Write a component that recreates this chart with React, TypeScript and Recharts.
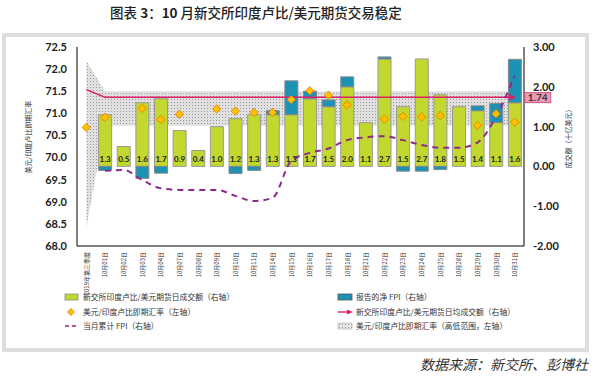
import React from 'react';
import { ComposedChart, Bar, Line, Area, XAxis, YAxis, LabelList } from 'recharts';

// categories: Q3 average + October trading days
const categories = [
  '2019年第三季度', '10月01日', '10月02日', '10月03日', '10月04日', '10月07日', '10月08日',
  '10月09日', '10月10日', '10月11日', '10月14日', '10月15日', '10月16日', '10月17日',
  '10月18日', '10月21日', '10月22日', '10月23日', '10月24日', '10月25日', '10月28日',
  '10月29日', '10月30日', '10月31日',
];

// SGX INR/USD futures daily volume (USD bn, right axis)
const futuresVolume = [null, 1.3, 0.5, 1.6, 1.7, 0.9, 0.4, 1.0, 1.2, 1.3, 1.3, 1.3, 1.7, 1.5, 2.0, 1.1, 2.7, 1.5, 2.7, 1.8, 1.5, 1.4, 1.1, 1.6];
// reported net FPI (right axis)
const netFpi = [null, -0.1, null, -0.3, -0.17, null, null, null, -0.18, -0.1, 0.1, 0.85, 0.19, 0.17, 0.25, null, 0.05, -0.12, -0.12, -0.08, null, 0.12, 0.48, 1.09];
// month-to-date cumulative FPI (right axis)
const cumulativeFpi = [null, -0.11, -0.09, -0.34, -0.55, -0.59, -0.59, -0.59, -0.74, -0.87, -0.79, 0.14, 0.34, 0.45, 0.66, 0.73, 0.76, 0.66, 0.54, 0.47, 0.47, 0.6, 1.25, 2.28];
// average daily futures volume (right axis)
const avgVolume = [1.93, 1.74, 1.74, 1.74, 1.74, 1.74, 1.74, 1.74, 1.74, 1.74, 1.74, 1.74, 1.74, 1.74, 1.74, 1.74, 1.74, 1.74, 1.74, 1.74, 1.74, 1.74, 1.74, 1.74];
// USD/INR spot rate (left axis)
const spotRate = [70.68, 70.91, null, 71.11, 70.86, 70.98, null, 71.1, 71.05, 71.02, 71.02, 71.31, 71.51, 71.41, 71.19, null, 70.87, 70.93, 70.92, 70.95, null, 70.73, 70.99, 70.8];
// USD/INR high-low range (left axis)
const rangeHigh = [72.19, 71.5, 71.5, 71.5, 71.5, 71.5, 71.5, 71.5, 71.5, 71.5, 71.5, 71.5, 71.5, 71.5, 71.5, 71.5, 71.5, 71.5, 71.5, 71.5, 71.5, 71.5, 71.5, 71.5];
const rangeLow = [68.41, 70.72, 70.72, 70.72, 70.72, 70.72, 70.72, 70.72, 70.72, 70.72, 70.72, 70.72, 70.72, 70.72, 70.72, 70.72, 70.72, 70.72, 70.72, 70.72, 70.72, 70.72, 70.72, 70.72];

const leftTicks = [68, 68.5, 69, 69.5, 70, 70.5, 71, 71.5, 72, 72.5];
const rightTicks = [-2, -1, 0, 1, 2, 3];

const data = categories.map((name, i) => ({
  name,
  vol: futuresVolume[i],
  fpi: netFpi[i],
  cum: cumulativeFpi[i],
  avg: avgVolume[i],
  spot: spotRate[i],
  range: [rangeLow[i], rangeHigh[i]],
}));

const GREEN = '#c2d82f';
const BLUE = '#1c92b4';
const RED = '#e0206a';
const PURPLE = '#8e2a8e';
const CJK = '"Noto Sans CJK SC", "Noto Sans", sans-serif';

const XTick = (props: any) => {
  const { x, y, payload } = props;
  return (
    <text x={x} y={y} transform={`rotate(-90, ${x}, ${y})`} textAnchor="end" dominantBaseline="central"
      fontSize={6} fill="#333" fontFamily={CJK}>
      {payload.value}
    </text>
  );
};

const VolLabel = (props: any) => {
  const { x, y, width, height, value } = props;
  if (value == null) return null;
  return (
    <text x={x + width / 2} y={y + height - 4} textAnchor="middle" fontSize={8} fontWeight={700}
      fill="#222" fontFamily="Lato, sans-serif">
      {Number(value).toFixed(1)}
    </text>
  );
};

const Diamond = (props: any) => {
  const { cx, cy, index } = props;
  if (cy == null || isNaN(cy)) return <g key={`d-${index}`} />;
  const r = 4.2;
  return (
    <polygon key={`d-${index}`} points={`${cx},${cy - r} ${cx + r},${cy} ${cx},${cy + r} ${cx - r},${cy}`}
      fill="#ffc000" stroke="#e07b00" strokeWidth={0.8} />
  );
};

const AvgEnd = (props: any) => {
  const { cx, cy, index } = props;
  if (index !== avgVolume.length - 1) return <g key={`a-${index}`} />;
  return (
    <g key={`a-${index}`}>
      <polygon points={`${cx + 1},${cy} ${cx - 6},${cy - 3.5} ${cx - 6},${cy + 3.5}`} fill={RED} />
      <rect x={cx + 10} y={cy - 4.5} width={26} height={10} fill="#eb9bb4" stroke="#c9537d" strokeWidth={1} />
      <text x={cx + 23} y={cy + 4} textAnchor="middle" fontSize={10} fontWeight={700} fill="#333"
        fontFamily="Lato, sans-serif">
        {avgVolume[index].toFixed(2)}
      </text>
    </g>
  );
};

const legendText = { fontSize: 7.8, fill: '#333', fontFamily: CJK };

export default function App() {
  return (
    <div style={{ position: 'absolute', left: 0, top: 0, width: 604, height: 388, background: '#fff' }}>
      <svg width={604} height={388} style={{ position: 'absolute', left: 0, top: 0 }}>
        <defs>
          <pattern id="hatchLegend" width="3" height="3" patternUnits="userSpaceOnUse">
            <rect width="3" height="3" fill="#e6e6e6" />
            <rect width="1" height="1" fill="#9a9a9a" />
          </pattern>
        </defs>
        <text x={256} y={17.5} textAnchor="middle" fontSize={13.5} fontWeight={500} fill="#222" fontFamily={CJK}>
          图表 <tspan fontWeight={700}>3</tspan>：<tspan fontWeight={700}>10</tspan> 月新交所印度卢比/美元期货交易稳定
        </text>
        <rect x={4} y={35} width={583} height={315} fill="none" stroke="#dedede" strokeWidth={4} />
        <text x={28} y={137} transform="rotate(-90, 28, 137)" textAnchor="middle" dominantBaseline="central"
          fontSize={7} fill="#333" fontFamily={CJK}>美元/印度卢比即期汇率</text>
        <text x={568} y={137} transform="rotate(-90, 568, 137)" textAnchor="middle" dominantBaseline="central"
          fontSize={7} fill="#333" fontFamily={CJK}>成交额（十亿美元）</text>

        {/* legend, left column */}
        <rect x={65} y={294} width={13} height={6} fill={GREEN} stroke="#8a8a8a" strokeWidth={0.8} />
        <text x={83} y={300} {...legendText}>新交所印度卢比/美元期货日成交额（右轴）</text>
        <polygon points="71,308.5 74.5,312 71,315.5 67.5,312" fill="#ffc000" stroke="#e07b00" strokeWidth={0.8} />
        <text x={83} y={315} {...legendText}>美元/印度卢比即期汇率（左轴）</text>
        <line x1={65} y1={326} x2={79} y2={326} stroke={PURPLE} strokeWidth={1.6} strokeDasharray="4 3" />
        <text x={83} y={329} {...legendText}>当月累计 FPI（右轴）</text>

        {/* legend, right column */}
        <rect x={338} y={294} width={14} height={6} fill={BLUE} stroke="#555" strokeWidth={0.8} />
        <text x={356} y={300} {...legendText}>报告的净 FPI（右轴）</text>
        <line x1={338} y1={312} x2={348} y2={312} stroke={RED} strokeWidth={1.4} />
        <polygon points="353,312 347,309.5 347,314.5" fill={RED} />
        <text x={356} y={315} {...legendText}>新交所印度卢比/美元期货日均成交额（右轴）</text>
        <rect x={338} y={323} width={14} height={6} fill="url(#hatchLegend)" stroke="#aaa" strokeWidth={0.6} />
        <text x={356} y={329} {...legendText}>美元/印度卢比即期汇率（高低范围，左轴）</text>

        <text x={588} y={370} textAnchor="end" fontSize={14} fontStyle="italic" fill="#333" fontFamily={CJK}>
          数据来源：新交所、彭博社
        </text>
      </svg>

      <div style={{ position: 'absolute', left: 0, top: 0 }}>
        <ComposedChart width={604} height={300} data={data} stackOffset="sign"
          margin={{ top: 47, right: 30, left: 17, bottom: 14 }}>
          <defs>
            <pattern id="hatch" width="3" height="3" patternUnits="userSpaceOnUse">
              <rect width="3" height="3" fill="#e0e0e0" />
              <rect width="1" height="1" fill="#9a9a9a" />
            </pattern>
          </defs>
          <XAxis dataKey="name" interval={0} tick={<XTick />} tickLine={false} tickMargin={0} height={40}
            axisLine={{ stroke: '#000', strokeWidth: 1 }} />
          <YAxis yAxisId="left" orientation="left" width={60} domain={[68, 72.5]} ticks={leftTicks}
            allowDataOverflow tickFormatter={(v: number) => v.toFixed(1)} tickLine={false} tickMargin={4}
            axisLine={{ stroke: '#000', strokeWidth: 1 }}
            tick={{ fontSize: 11, fontWeight: 700, fill: '#222', fontFamily: 'Lato, sans-serif' }} />
          <YAxis yAxisId="right" orientation="right" width={50} domain={[-2, 3]} ticks={rightTicks}
            allowDataOverflow tickFormatter={(v: number) => v.toFixed(2)} tickLine={false} tickMargin={3}
            axisLine={{ stroke: '#000', strokeWidth: 1 }}
            tick={{ fontSize: 11, fontWeight: 700, fill: '#222', fontFamily: 'Lato, sans-serif', textAnchor: 'start' }} />

          <Area yAxisId="left" dataKey="range" type="linear" fill="url(#hatch)" fillOpacity={1} stroke="none"
            isAnimationActive={false} activeDot={false} dot={false} />

          <Bar yAxisId="right" dataKey="vol" stackId="s" fill={GREEN} stroke="#999" strokeWidth={1}
            barSize={13} isAnimationActive={false}>
            <LabelList dataKey="vol" content={<VolLabel />} />
          </Bar>
          <Bar yAxisId="right" dataKey="fpi" stackId="s" fill={BLUE} stroke="#888" strokeWidth={1}
            barSize={13} isAnimationActive={false} />

          <Line yAxisId="right" dataKey="avg" type="linear" stroke={RED} strokeWidth={1.5}
            dot={AvgEnd} activeDot={false} isAnimationActive={false} />
          <Line yAxisId="right" dataKey="cum" type="monotone" stroke={PURPLE} strokeWidth={2}
            strokeDasharray="6 5" dot={false} activeDot={false} isAnimationActive={false} />
          <Line yAxisId="left" dataKey="spot" stroke="none" dot={Diamond} activeDot={false}
            isAnimationActive={false} />
        </ComposedChart>
      </div>
    </div>
  );
}
